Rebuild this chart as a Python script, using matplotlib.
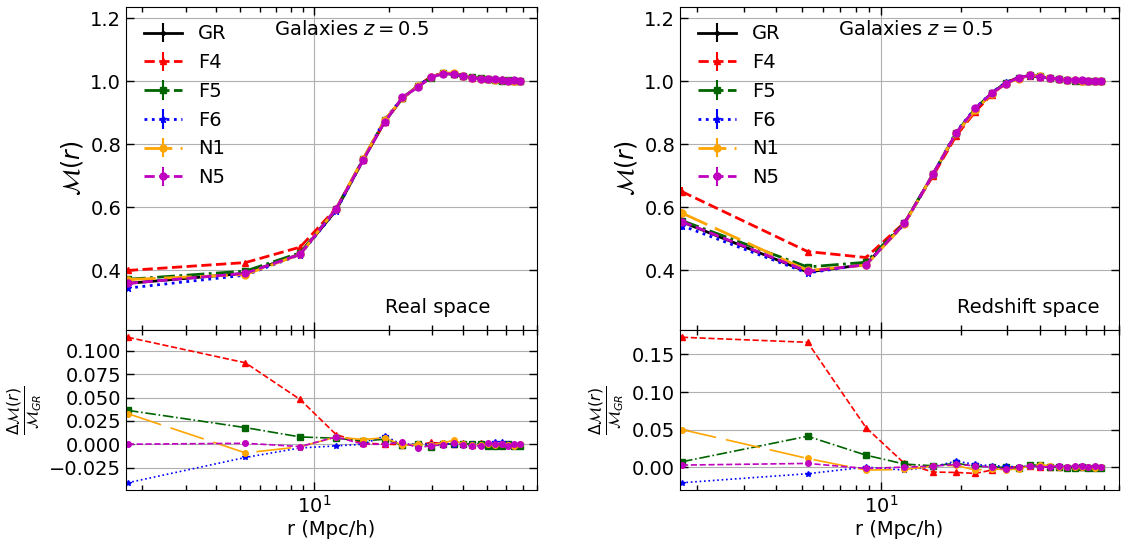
import numpy as np
import matplotlib
matplotlib.use("Agg")
import matplotlib.pyplot as plt
from matplotlib.ticker import MultipleLocator

# radial bins (Mpc/h)
r = [1.75, 5.25, 8.75, 12.25, 15.75, 19.25, 22.75, 26.25, 29.75, 33.25,
     36.75, 40.25, 43.75, 47.25, 50.75, 54.25, 57.75, 61.25, 64.75, 68.25]

models = ["GR", "F4", "F5", "F6", "N1", "N5"]

# --- real space: marked correlation M(r)
m_real = {
    "GR": [0.358, 0.390, 0.451, 0.590, 0.749, 0.870, 0.946, 0.984, 1.013, 1.024,
           1.022, 1.016, 1.012, 1.009, 1.007, 1.005, 1.003, 1.002, 1.001, 1.000],
    "F4": [0.399, 0.424, 0.473, 0.596, 0.750, 0.870, 0.946, 0.983, 1.015, 1.025,
           1.023, 1.017, 1.011, 1.010, 1.006, 1.005, 1.003, 1.002, 1.001, 1.000],
    "F5": [0.371, 0.397, 0.455, 0.594, 0.752, 0.875, 0.945, 0.984, 1.010, 1.025,
           1.022, 1.017, 1.012, 1.010, 1.005, 1.004, 1.001, 1.002, 0.999, 0.999],
    "F6": [0.343, 0.384, 0.449, 0.589, 0.749, 0.878, 0.946, 0.984, 1.013, 1.025,
           1.021, 1.016, 1.013, 1.008, 1.007, 1.007, 1.006, 1.003, 1.000, 1.000],
    "N1": [0.370, 0.386, 0.450, 0.595, 0.753, 0.876, 0.945, 0.984, 1.012, 1.025,
           1.026, 1.016, 1.011, 1.008, 1.008, 1.004, 1.003, 1.001, 0.999, 1.001],
    "N5": [0.358, 0.390, 0.450, 0.595, 0.749, 0.870, 0.948, 0.980, 1.012, 1.023,
           1.023, 1.015, 1.010, 1.008, 1.008, 1.005, 1.003, 1.001, 1.002, 1.000],
}
err_real = [0.008, 0.005, 0.004, 0.003, 0.003, 0.002, 0.002, 0.002, 0.002, 0.001,
            0.001, 0.001, 0.001, 0.001, 0.001, 0.001, 0.001, 0.001, 0.001, 0.001]

# relative difference to GR, real space
d_real = {
    "F4": [0.1147, 0.0873, 0.0480, 0.0103, 0.0014, 0.0000, -0.0005, -0.0010, 0.0020, 0.0008,
           0.0005, 0.0010, -0.0005, 0.0008, -0.0010, 0.0005, 0.0002, 0.0003, -0.0004, 0.0002],
    "F5": [0.0363, 0.0178, 0.0078, 0.0064, 0.0036, 0.0053, -0.0010, 0.0000, -0.0028, 0.0007,
           0.0000, 0.0007, 0.0000, 0.0007, -0.0021, -0.0014, -0.0021, 0.0000, -0.0021, -0.0014],
    "F6": [-0.0413, -0.0142, -0.0040, -0.0018, 0.0000, 0.0090, -0.0005, 0.0005, 0.0000, 0.0010,
           -0.0005, 0.0000, 0.0005, -0.0005, 0.0000, 0.0020, 0.0025, 0.0005, -0.0005, 0.0000],
    "N1": [0.0328, -0.0093, -0.0028, 0.0078, 0.0050, 0.0070, -0.0010, -0.0003, -0.0007, 0.0014,
           0.0043, 0.0000, -0.0005, -0.0010, 0.0005, -0.0005, 0.0002, -0.0010, -0.0015, 0.0005],
    "N5": [0.0000, 0.0010, -0.0025, 0.0078, 0.0000, 0.0000, 0.0025, -0.0040, -0.0014, -0.0010,
           0.0014, -0.0010, -0.0021, -0.0014, 0.0014, 0.0000, 0.0000, -0.0014, 0.0007, 0.0005],
}

# --- redshift space
m_rsd = {
    "GR": [0.553, 0.394, 0.418, 0.548, 0.705, 0.832, 0.911, 0.961, 0.995, 1.011,
           1.016, 1.013, 1.009, 1.006, 1.004, 1.002, 1.001, 1.000, 1.000, 1.000],
    "F4": [0.649, 0.459, 0.440, 0.551, 0.700, 0.826, 0.903, 0.957, 0.995, 1.011,
           1.017, 1.014, 1.009, 1.007, 1.003, 1.002, 1.001, 1.001, 1.000, 1.000],
    "F5": [0.557, 0.410, 0.425, 0.550, 0.706, 0.836, 0.912, 0.961, 0.995, 1.009,
           1.019, 1.015, 1.009, 1.006, 1.003, 1.001, 1.001, 0.999, 0.999, 0.999],
    "F6": [0.541, 0.391, 0.418, 0.546, 0.705, 0.839, 0.914, 0.963, 0.996, 1.011,
           1.017, 1.013, 1.009, 1.007, 1.004, 1.002, 1.002, 1.000, 1.000, 1.000],
    "N1": [0.581, 0.399, 0.416, 0.546, 0.706, 0.834, 0.907, 0.959, 0.992, 1.008,
           1.018, 1.016, 1.011, 1.006, 1.004, 1.002, 1.001, 1.000, 0.999, 1.000],
    "N5": [0.554, 0.396, 0.417, 0.548, 0.706, 0.835, 0.913, 0.961, 0.992, 1.011,
           1.018, 1.013, 1.009, 1.008, 1.004, 1.003, 1.002, 1.000, 1.001, 1.000],
}
err_rsd = [0.014, 0.006, 0.004, 0.003, 0.003, 0.002, 0.002, 0.002, 0.002, 0.001,
           0.001, 0.001, 0.001, 0.001, 0.001, 0.001, 0.001, 0.001, 0.001, 0.001]

d_rsd = {
    "F4": [0.1729, 0.1662, 0.0526, 0.0049, -0.0066, -0.0071, -0.0084, -0.0040, -0.0004, 0.0004,
           0.0010, 0.0005, 0.0000, 0.0008, -0.0005, 0.0003, 0.0000, 0.0005, -0.0003, 0.0002],
    "F5": [0.0071, 0.0411, 0.0159, 0.0040, 0.0018, 0.0050, 0.0013, 0.0004, -0.0004, -0.0018,
           0.0031, 0.0022, 0.0004, 0.0000, -0.0009, -0.0013, 0.0004, -0.0009, -0.0009, -0.0009],
    "F6": [-0.0208, -0.0088, 0.0000, -0.0040, 0.0004, 0.0080, 0.0035, 0.0018, 0.0013, 0.0000,
           0.0013, 0.0004, 0.0000, 0.0009, 0.0004, 0.0000, 0.0009, 0.0004, 0.0000, 0.0004],
    "N1": [0.0500, 0.0115, -0.0040, -0.0031, 0.0013, 0.0022, -0.0040, -0.0022, -0.0035, -0.0027,
           0.0018, 0.0031, 0.0018, 0.0004, -0.0004, 0.0000, 0.0004, -0.0004, -0.0009, 0.0000],
    "N5": [0.0027, 0.0049, -0.0018, 0.0000, 0.0013, 0.0035, 0.0018, 0.0000, -0.0027, 0.0004,
           0.0018, 0.0004, 0.0004, 0.0018, 0.0004, 0.0013, 0.0013, 0.0004, 0.0009, 0.0005],
}

# style per model: colour, linestyle (top, bottom), marker
estilo = {
    "GR": ("k", "-", "-", "."),
    "F4": ("r", (0, (3.7, 1.6)), (0, (3.7, 1.6)), "^"),
    "F5": ("darkgreen", "-.", "-.", "s"),
    "F6": ("b", ":", ":", "*"),
    "N1": ("orange", (0, (10, 3)), (0, (21, 6)), "o"),
    "N5": ("m", (0, (3.7, 1.6)), (0, (3.7, 1.6)), "o"),
}

plt.rcParams["font.size"] = 14
plt.rcParams["mathtext.fontset"] = "dejavusans"

fig = plt.figure(figsize=(11.21, 5.39), dpi=100)
W, H = 1121.0, 539.0


def ejes(x0, ancho):
    ax_top = fig.add_axes([x0 / W, (H - 330) / H, ancho / W, 323 / H])
    ax_bot = fig.add_axes([x0 / W, (H - 490) / H, ancho / W, 160 / H], sharex=ax_top)
    for ax in (ax_top, ax_bot):
        ax.set_xscale("log")
        ax.tick_params(which="both", direction="in", top=True, right=True, labelsize=14)
        ax.tick_params(which="major", length=6, width=1)
        ax.tick_params(which="minor", length=3.5, width=1)
        ax.grid(True, which="major", color="#b0b0b0", lw=0.8)
    ax_top.tick_params(labelbottom=False)
    return ax_top, ax_bot


def panel(ax_top, ax_bot, m, err, d, etiqueta, paso):
    for mod in models:
        c, ls, _, mk = estilo[mod]
        ax_top.errorbar(r, m[mod], yerr=err, color=c, ls=ls, marker=mk, ms=5,
                        lw=2, elinewidth=1.5, label=mod)
    for mod in models[1:]:
        c, _, ls, mk = estilo[mod]
        ax_bot.plot(r, d[mod], color=c, ls=ls, marker=mk, ms=4, lw=1.2)
    ax_top.set_xlim(1.72, 80)
    ax_top.set_ylim(0.21, 1.235)
    ax_bot.yaxis.set_major_locator(MultipleLocator(paso))
    ax_top.set_ylabel(r"$\mathcal{M}(r)$", fontsize=17)
    ax_bot.set_ylabel(r"$\frac{\Delta\mathcal{M}(r)}{\mathcal{M}_{GR}}$", fontsize=16)
    ax_bot.set_xlabel("r (Mpc/h)", fontsize=14, labelpad=2)
    ax_top.text(0.36, 0.93, r"Galaxies $z = 0.5$", transform=ax_top.transAxes,
                ha="left", va="center", fontsize=14)
    ax_top.text(0.63, 0.07, etiqueta, transform=ax_top.transAxes,
                ha="left", va="center", fontsize=14)
    ax_top.legend(loc="upper left", frameon=False, fontsize=14)


a1, b1 = ejes(126, 411)
panel(a1, b1, m_real, err_real, d_real, "Real space", 0.025)
a2, b2 = ejes(680, 439)
panel(a2, b2, m_rsd, err_rsd, d_rsd, "Redshift space", 0.05)

fig.savefig("out.png", dpi=100)
